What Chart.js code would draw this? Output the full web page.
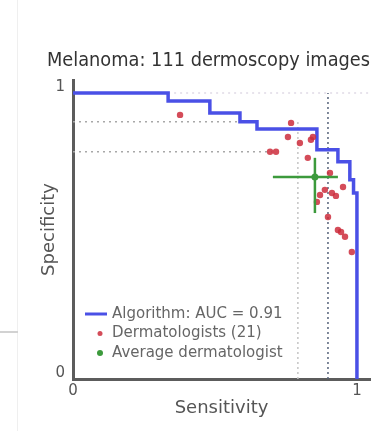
<!DOCTYPE html>
<html>
<head>
<meta charset="utf-8">
<script src="https://cdn.jsdelivr.net/npm/chart.js@4.4.0/dist/chart.umd.min.js"></script>
<style>
  html, body { margin: 0; padding: 0; background: #fff; }
  #wrap { position: relative; width: 389px; height: 431px; }
  #edge { position: absolute; left: 17px; top: 0; width: 1px; height: 431px; background: #efefef; }
  #rule { position: absolute; left: 0; top: 331px; width: 18px; height: 2px; background: #d2d2d2; }
</style>
</head>
<body>
<div id="wrap">
  <canvas id="Chart" width="389" height="431"></canvas>
  <div id="edge"></div>
  <div id="rule"></div>
</div>
<script>
// chart text
const chartTitle = "Melanoma: 111 dermoscopy images";
const xTitle = "Sensitivity";
const yTitle = "Specificity";
const tickValues = [0, 1];
const tickLabels = ['0', '1'];
const legendLabels = ['Algorithm: AUC = 0.91', 'Dermatologists (21)', 'Average dermatologist'];

// algorithm ROC (corners of the step curve)
const rocSens = [0, 0.335, 0.482, 0.588, 0.648, 0.859, 0.933, 0.975, 0.988, 1.0];
const rocSpec = [1, 0.972, 0.930, 0.899, 0.874, 0.801, 0.759, 0.696, 0.650, 0.0];

// 21 dermatologists
const dermSens = [0.377, 0.768, 0.757, 0.694, 0.715, 0.799, 0.845, 0.827, 0.905, 0.870, 0.912,
                  0.951, 0.859, 0.898, 0.933, 0.958, 0.982, 0.887, 0.926, 0.944, 0.838];
const dermSpec = [0.923, 0.895, 0.846, 0.794, 0.794, 0.825, 0.846, 0.773, 0.720, 0.643, 0.650,
                  0.671, 0.619, 0.566, 0.521, 0.497, 0.444, 0.661, 0.640, 0.514, 0.836];

// average dermatologist with spread
const avgSens = [0.852];
const avgSpec = [0.706];
const avgSensRange = [0.704, 0.933];
const avgSpecRange = [0.580, 0.773];

// dotted guide lines
const vGuideSens = [0.898, 0.792];
const vGuideTop = [1.0, 0.9];
const hGuideSpec = [0.899, 0.794, 1.0];
const hGuideFrom = [0, 0, 0.335];
const hGuideTo = [0.648, 0.70, 1.046];

const ctx = document.getElementById("Chart").getContext("2d");
Chart.defaults.font.family = "'DejaVu Sans', sans-serif";

let datasets = [];

vGuideSens.forEach(function(s, i) {
  datasets.push({
    data: [{x: s, y: 0}, {x: s, y: vGuideTop[i]}],
    showLine: true, pointRadius: 0, borderWidth: 1.5,
    borderColor: i == 0 ? '#56627a' : '#c4c4c4',
    borderDash: [2, 3], order: 6
  });
});
hGuideSpec.forEach(function(s, i) {
  datasets.push({
    data: [{x: hGuideFrom[i], y: s}, {x: hGuideTo[i], y: s}],
    showLine: true, pointRadius: 0, borderWidth: 1.5,
    borderColor: i == 2 ? '#e0dae6' : '#a8a8a8',
    borderDash: [2, 4], order: 6
  });
});

datasets.push({
  label: legendLabels[0],
  data: rocSens.map((s, i) => ({x: s, y: rocSpec[i]})),
  showLine: true, stepped: 'before', pointRadius: 0,
  borderColor: '#4a50e6', borderWidth: 3.5, order: 4
});
datasets.push({
  label: legendLabels[1],
  data: dermSens.map((s, i) => ({x: s, y: dermSpec[i]})),
  pointRadius: 3.2, borderWidth: 0,
  backgroundColor: 'rgba(205,45,60,0.85)', order: 3
});
datasets.push({
  data: [{x: avgSensRange[0], y: avgSpec[0]}, {x: avgSensRange[1], y: avgSpec[0]}],
  showLine: true, pointRadius: 0, borderColor: '#3c9a3c', borderWidth: 2.5, order: 2
});
datasets.push({
  data: [{x: avgSens[0], y: avgSpecRange[0]}, {x: avgSens[0], y: avgSpecRange[1]}],
  showLine: true, pointRadius: 0, borderColor: '#3c9a3c', borderWidth: 2.5, order: 2
});
datasets.push({
  label: legendLabels[2],
  data: avgSens.map((s, i) => ({x: s, y: avgSpec[i]})),
  pointRadius: 3.5, borderWidth: 0, backgroundColor: '#3c9a3c', order: 1
});

// legend sits inside the plot, bottom left
const innerLegend = {
  id: 'innerLegend',
  afterDatasetsDraw(chart) {
    const c = chart.ctx, a = chart.chartArea;
    c.save();
    c.font = "15px 'DejaVu Sans'";
    c.textBaseline = 'middle';
    legendLabels.forEach(function(t, i) {
      const y = a.bottom - 65 + i * 19.5;
      if (i == 0) {
        c.strokeStyle = '#4a50e6';
        c.lineWidth = 3;
        c.beginPath(); c.moveTo(a.left + 12, y); c.lineTo(a.left + 34, y); c.stroke();
      } else {
        c.fillStyle = i == 1 ? 'rgba(205,45,60,0.85)' : '#3c9a3c';
        c.beginPath(); c.arc(a.left + 27, y, i == 1 ? 2.5 : 3, 0, Math.PI * 2); c.fill();
      }
      c.fillStyle = '#666';
      c.fillText(t, a.left + 39, y);
    });
    c.restore();
  }
};

function setTicks(scale) {
  scale.ticks = tickValues.map(v => ({value: v}));
}

new Chart(ctx, {
  type: 'scatter',
  data: { datasets: datasets },
  plugins: [innerLegend],
  options: {
    responsive: false,
    animation: false,
    layout: { padding: {left: 47, right: 19, top: 40, bottom: 0}, autoPadding: false },
    plugins: {
      legend: { display: false },
      tooltip: { enabled: false },
      title: {
        display: true, text: chartTitle, color: '#333',
        font: { size: 20, weight: 'normal' },
        padding: { top: 8.5, bottom: 7.5 }
      }
    },
    scales: {
      x: {
        type: 'linear', min: 0, max: 1.046,
        afterBuildTicks: setTicks,
        afterFit: function(s) { s.height = 52; },
        grid: { display: false, drawTicks: false },
        border: { display: true, color: '#5c5c5c', width: 3 },
        ticks: {
          color: '#555', padding: 3, font: { size: 15 },
          callback: v => tickLabels[tickValues.indexOf(v)]
        },
        title: {
          display: true, text: xTitle, color: '#555',
          font: { size: 18 }, padding: { top: 0, bottom: 12.2 }
        }
      },
      y: {
        type: 'linear', min: 0, max: 1.045,
        afterBuildTicks: setTicks,
        afterFit: function(s) { s.width = 26; },
        grid: { display: false, drawTicks: false },
        border: { display: true, color: '#5c5c5c', width: 3 },
        ticks: {
          color: '#555', padding: 8, labelOffset: -6, font: { size: 15 },
          callback: v => tickLabels[tickValues.indexOf(v)]
        },
        title: {
          display: true, text: yTitle, color: '#555',
          font: { size: 18 }, padding: { top: -8.3, bottom: 0 }
        }
      }
    }
  }
});
</script>
</body>
</html>
